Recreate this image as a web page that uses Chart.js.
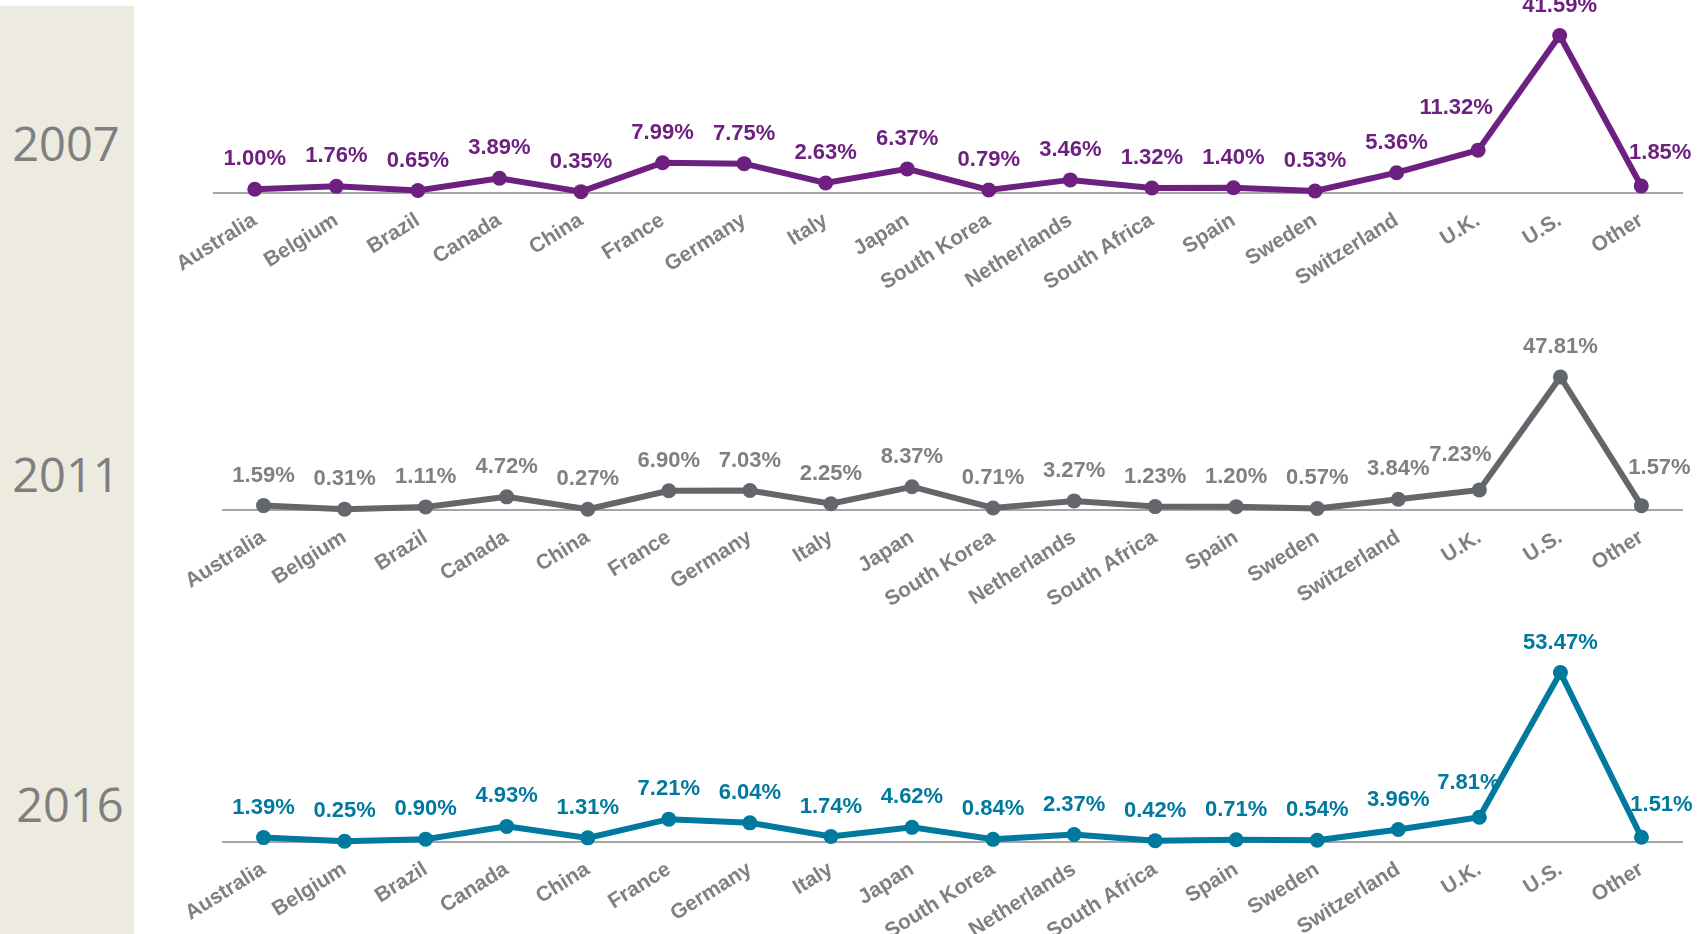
<!DOCTYPE html>
<html>
<head>
<meta charset="utf-8">
<script src="https://cdn.jsdelivr.net/npm/chart.js@4.4.1/dist/chart.umd.min.js"></script>
<style>
  html, body { margin:0; padding:0; width:1704px; height:934px; overflow:hidden; background:#ffffff; }
  #panel { position:absolute; left:0; top:6px; width:134px; height:928px; background:#EDEBE0; }
  .year { position:absolute; width:140px; text-align:center; font-family:"Open Sans", "Noto Sans", sans-serif; font-size:47px; line-height:1; color:#7f7f7f; }
  .wrap { position:absolute; left:0; width:1704px; }
  canvas { display:block; }
</style>
</head>
<body>
<div id="panel"></div>
<div class="year" style="left:-4px; top:120px;">2007</div>
<div class="year" style="left:-4px; top:451px;">2011</div>
<div class="year" style="left:0px; top:781px;">2016</div>
<div class="wrap" id="w2007"><canvas id="c2007"></canvas></div>
<div class="wrap" id="w2011"><canvas id="c2011"></canvas></div>
<div class="wrap" id="w2016"><canvas id="c2016"></canvas></div>
<script>
const categories = ['Australia','Belgium','Brazil','Canada','China','France','Germany','Italy','Japan','South Korea','Netherlands','South Africa','Spain','Sweden','Switzerland','U.K.','U.S.','Other'];
const share2007 = [1.00, 1.76, 0.65, 3.89, 0.35, 7.99, 7.75, 2.63, 6.37, 0.79, 3.46, 1.32, 1.40, 0.53, 5.36, 11.32, 41.59, 1.85];
const share2011 = [1.59, 0.31, 1.11, 4.72, 0.27, 6.90, 7.03, 2.25, 8.37, 0.71, 3.27, 1.23, 1.20, 0.57, 3.84, 7.23, 47.81, 1.57];
const share2016 = [1.39, 0.25, 0.90, 4.93, 1.31, 7.21, 6.04, 1.74, 4.62, 0.84, 2.37, 0.42, 0.71, 0.54, 3.96, 7.81, 53.47, 1.51];

const AXIS_H = 112;
const panels = [
  { id:'2007', values:share2007, color:'#6E2081', labelColor:'#6E2081', top:0,   axisY:193,   ppu:3.94, left:214, right:1682, shifts:{15:[-22,-12], 17:[19,-3]} },
  { id:'2011', values:share2011, color:'#63666A', labelColor:'#808080', top:290, axisY:509.5, ppu:2.88, left:223, right:1682, shifts:{15:[-19,-5], 17:[18,-8]} },
  { id:'2016', values:share2016, color:'#00799E', labelColor:'#00799E', top:600, axisY:841.5, ppu:3.27, left:223, right:1682, shifts:{15:[-11,-4], 17:[20,-2]} }
];

const valueLabels = {
  id:'valueLabels',
  afterDatasetsDraw(chart, args, opts) {
    const meta = chart.getDatasetMeta(0);
    const ds = chart.data.datasets[0];
    const ctx = chart.ctx;
    ctx.save();
    ctx.font = 'bold 22px "Liberation Sans", Arial, sans-serif';
    ctx.fillStyle = opts.color;
    ctx.textAlign = 'center';
    ctx.textBaseline = 'middle';
    meta.data.forEach((pt, i) => {
      const s = (opts.shifts || {})[i] || [0, 0];
      ctx.fillText(ds.data[i].toFixed(2) + '%', pt.x + s[0], pt.y - 30 + s[1]);
    });
    ctx.restore();
  }
};

panels.forEach(p => {
  const wrap = document.getElementById('w' + p.id);
  const canvas = document.getElementById('c' + p.id);
  const h = Math.round(p.axisY - p.top + AXIS_H);
  wrap.style.top = p.top + 'px';
  canvas.width = 1704; canvas.height = h;
  canvas.style.width = '1704px'; canvas.style.height = h + 'px';
  const areaH = h - AXIS_H;
  new Chart(canvas, {
    type:'line',
    data:{
      labels:categories,
      datasets:[{
        data:p.values,
        borderColor:p.color,
        backgroundColor:p.color,
        borderWidth:6,
        pointRadius:7.5,
        pointHoverRadius:7.5,
        pointBackgroundColor:p.color,
        pointBorderWidth:0,
        tension:0,
        clip:false,
        fill:false
      }]
    },
    options:{
      responsive:false,
      animation:false,
      devicePixelRatio:1,
      layout:{ padding:{ left:p.left, right:1704 - p.right, top:0, bottom:0 } },
      plugins:{
        legend:{ display:false },
        tooltip:{ enabled:false },
        valueLabels:{ color:p.labelColor, shifts:p.shifts }
      },
      scales:{
        x:{
          type:'category',
          offset:true,
          grid:{ display:false, drawTicks:false },
          border:{ display:true, color:'#A6A6A6', width:2 },
          ticks:{
            autoSkip:false, minRotation:32, maxRotation:32, padding:15,
            color:'#808080',
            font:{ family:'"Liberation Sans", Arial, sans-serif', size:21, weight:'bold' }
          },
          afterFit(s){ s.height = AXIS_H; s.paddingLeft = 0; s.paddingRight = 0; }
        },
        y:{ display:false, min:0, max: areaH / p.ppu }
      }
    },
    plugins:[valueLabels]
  });
});
</script>
</body>
</html>
